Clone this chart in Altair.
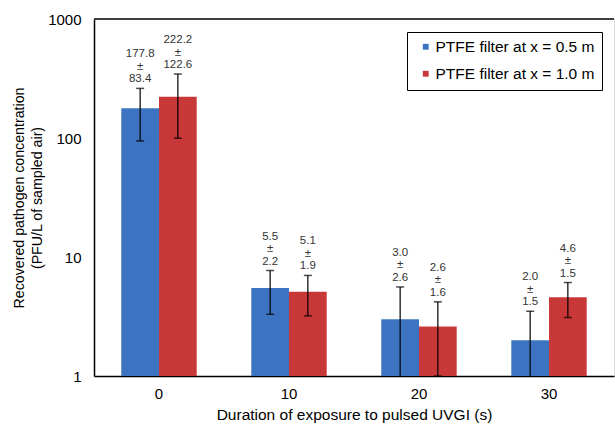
import altair as alt
import pandas as pd

categories = ["0", "10", "20", "30"]
series_names = ["PTFE filter at x = 0.5 m", "PTFE filter at x = 1.0 m"]
means_05 = [177.8, 5.5, 3.0, 2.0]
sds_05 = [83.4, 2.2, 2.6, 1.5]
means_10 = [222.2, 5.1, 2.6, 4.6]
sds_10 = [122.6, 1.9, 1.6, 1.5]

rows = []
for s, ms, ss in [(series_names[0], means_05, sds_05), (series_names[1], means_10, sds_10)]:
    for c, m, sd in zip(categories, ms, ss):
        rows.append({
            "cat": c, "series": s, "mean": m, "sd": sd,
            "upper": m + sd, "lower": m - sd,
            "l1": f"{m:.1f}", "l2": "±", "l3": f"{sd:.1f}",
        })
df = pd.DataFrame(rows)

FONT = "Liberation Sans"
W, H = 520, 357

x_enc = alt.X("cat:N", sort=categories,
              scale=alt.Scale(paddingInner=0.42, paddingOuter=0.21),
              axis=alt.Axis(title="Duration of exposure to pulsed UVGI (s)", labelAngle=0,
                            ticks=False, labelPadding=10, labelFontSize=15,
                            titleFontSize=15.5, titlePadding=6.5, titleFontWeight="normal",
                            domainColor="#000000", domainWidth=1.5,
                            labelColor="#000000", titleColor="#000000"))
xo = alt.XOffset("series:N", sort=series_names, scale=alt.Scale(paddingInner=0, paddingOuter=0))
y_scale = alt.Scale(type="log", domain=[1, 1000])

base = alt.Chart(df)

bars = base.mark_bar(clip=True).encode(
    x=x_enc,
    xOffset=xo,
    y=alt.Y("mean:Q", scale=y_scale,
            axis=alt.Axis(title=["Recovered pathogen concentration", "(PFU/L of sampled air)"],
                          values=[1, 10, 100, 1000], format="d", ticks=False, grid=False,
                          labelPadding=13, labelFontSize=15, titleFontSize=14.2,
                          titleFontWeight="normal", titlePadding=3, titleLineHeight=18,
                          domainColor="#000000", domainWidth=1.5,
                          labelColor="#000000", titleColor="#000000")),
    y2=alt.datum(1),
    color=alt.Color("series:N", sort=series_names,
                    scale=alt.Scale(domain=series_names, range=["#3c74c1", "#c93838"]),
                    legend=alt.Legend(title=None, orient="none", legendX=313, legendY=13,
                                      strokeColor="#000000", padding=7, symbolOffset=4,
                                      labelOffset=2, labelFontSize=15.5, labelFont=FONT,
                                      labelColor="#000000", rowPadding=10,
                                      symbolType="square", symbolSize=34,
                                      symbolStrokeWidth=0, fillColor="#ffffff")),
)

err = base.mark_rule(color="#000000", strokeWidth=1.2, clip=True).encode(
    x=alt.X("cat:N", sort=categories),
    xOffset=xo,
    y=alt.Y("lower:Q", scale=y_scale),
    y2="upper:Q",
)

cap_hi = base.mark_tick(color="#000000", thickness=1.5, size=8, clip=True).encode(
    x=alt.X("cat:N", sort=categories),
    xOffset=xo,
    y=alt.Y("upper:Q", scale=y_scale),
)
cap_lo = base.mark_tick(color="#000000", thickness=1.5, size=8, clip=True).encode(
    x=alt.X("cat:N", sort=categories),
    xOffset=xo,
    y=alt.Y("lower:Q", scale=y_scale),
)

def text_line(field, dy):
    return base.mark_text(baseline="alphabetic", dy=dy, fontSize=11.5, font=FONT,
                          color="#333333").encode(
        x=alt.X("cat:N", sort=categories),
        xOffset=xo,
        y=alt.Y("upper:Q", scale=y_scale),
        text=f"{field}:N",
    )

t1 = text_line("l1", -31)
t2 = text_line("l2", -18.5)
t3 = text_line("l3", -6)

top_line = alt.Chart(pd.DataFrame({"a": [0]})).mark_rule(color="#404040", strokeWidth=2).encode(
    x=alt.value(0), x2=alt.value(W), y=alt.value(0)
)

chart = alt.layer(bars, err, cap_hi, cap_lo, t1, t2, t3, top_line).properties(
    width=W, height=H,
    autosize=alt.AutoSizeParams(type="none"),
    padding={"left": 94, "top": 19, "right": 1, "bottom": 48},
).configure_view(stroke=None).configure(font=FONT)

chart.save("out.html", embed_options={"renderer": "svg", "actions": False})
